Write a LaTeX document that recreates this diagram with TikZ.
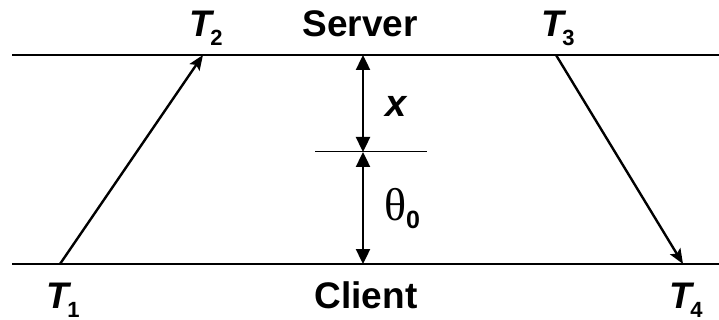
\documentclass[tikz,border=0pt]{standalone}
\usepackage{fontspec}
\setmainfont{Liberation Sans}
\newfontfamily\greekfont{Liberation Serif}
\usepackage{tikz}
\usetikzlibrary{arrows.meta}
\tikzset{
  timeLine/.style={draw=black, line width=2.6pt},
  markLine/.style={draw=black, line width=1pt},
  msgArrow/.style={draw=black, line width=2.4pt, -{Stealth[length=15pt,width=12pt,inset=3pt]}},
  gapArrow/.style={draw=black, line width=2.4pt, {Triangle[length=15pt,width=14pt]}-{Triangle[length=15pt,width=14pt]}},
  bigLbl/.style={font=\fontsize{37}{39}\selectfont\bfseries, inner sep=0pt},
}
\newcommand{\Tlab}[1]{\textit{T}\kern-4pt\raisebox{-9pt}{\fontsize{22}{22}\selectfont #1}}

\begin{document}
\begin{tikzpicture}[x=1pt,y=-1pt]
  \useasboundingbox (0,0) rectangle (719,320);

  % server and client time lines
  \coordinate (sl) at (12,55);
  \coordinate (sr) at (719,55);
  \coordinate (cl) at (12,264);
  \coordinate (cr) at (719,264);
  \draw[timeLine] (sl)--(sr);
  \draw[timeLine] (cl)--(cr);

  % message events
  \coordinate (t1) at (60,264);
  \coordinate (t2) at (203,55);
  \coordinate (t3) at (556,55);
  \coordinate (t4) at (683,264);
  \draw[msgArrow] (t1)--(t2);
  \draw[msgArrow] (t3)--(t4);

  % offset marks
  \coordinate (st) at (363,55);
  \coordinate (mid) at (363,152);
  \coordinate (cb) at (363,264);
  \coordinate (ml) at (315,152);
  \coordinate (mr) at (427,152);
  \draw[markLine] (ml)--(mr);
  \draw[gapArrow] (st)--(mid);
  \draw[gapArrow] (mid)--(cb);

  \node[bigLbl, anchor=base west] (lt2) at (189,37) {\Tlab{2}};
  \node[bigLbl, anchor=base] (lsrv) at (360,37) {Server};
  \node[bigLbl, anchor=base west] (lt3) at (541,37) {\Tlab{3}};
  \node[bigLbl, anchor=base west] (lt1) at (46,308) {\Tlab{1}};
  \node[bigLbl, anchor=base] (lcli) at (366,308) {Client};
  \node[bigLbl, anchor=base west] (lt4) at (669,308) {\Tlab{4}};
  \node[bigLbl, font=\fontsize{38}{40}\selectfont\bfseries, anchor=base west] (lx) at (385,117) {\textit{x}};
  \node[inner sep=0pt, anchor=base west] (lth) at (384,220)
    {{\greekfont\fontsize{46}{48}\selectfont θ}\raisebox{-8pt}{\fontsize{25}{25}\selectfont\bfseries 0}};
\end{tikzpicture}
\end{document}
